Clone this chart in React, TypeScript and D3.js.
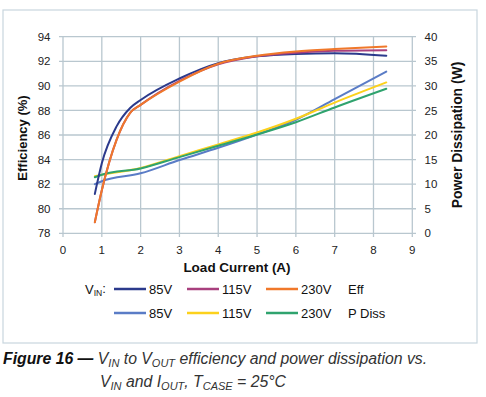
import React from "react";
import * as d3 from "d3";

const xTicks = [0, 1, 2, 3, 4, 5, 6, 7, 8, 9];
const effTicks = [78, 80, 82, 84, 86, 88, 90, 92, 94];
const pdTicks = [0, 5, 10, 15, 20, 25, 30, 35, 40];

const effX = [0.82, 1.0, 1.38, 1.73, 2.0, 3.0, 4.0, 5.0, 6.0, 7.0, 8.33];
const eff85 = [81.2, 83.7, 86.7, 88.2, 88.85, 90.6, 91.85, 92.4, 92.6, 92.65, 92.45];
const eff115 = [78.9, 81.5, 85.6, 87.8, 88.45, 90.4, 91.75, 92.4, 92.7, 92.85, 92.9];
const eff230 = [78.9, 81.5, 85.6, 87.8, 88.45, 90.35, 91.8, 92.45, 92.8, 93.0, 93.2];

const pdX = [0.82, 1.0, 2.0, 3.0, 4.0, 5.0, 6.0, 7.0, 8.33];
const pd85 = [10.0, 10.6, 12.2, 14.9, 17.4, 20.1, 23.1, 27.3, 32.9];
const pd115 = [11.6, 11.9, 13.3, 15.7, 18.1, 20.5, 23.3, 26.6, 30.7];
const pd230 = [11.4, 11.9, 13.2, 15.5, 17.8, 20.1, 22.6, 25.6, 29.4];

const C = {
  e85: "#2b3a8c",
  e115: "#a8407e",
  e230: "#f0782a",
  p85: "#5a7cc6",
  p115: "#fcd11c",
  p230: "#2fa36e",
  grid: "#b9c7cf",
  frame: "#c8d6de",
};

export default function App() {
  const x = d3.scaleLinear().domain([0, 9]).range([63, 412.3]);
  const yE = d3.scaleLinear().domain([78, 94]).range([233.3, 36.7]);
  const yP = d3.scaleLinear().domain([0, 40]).range([233.3, 36.7]);
  const lineE = (vals: number[]) =>
    d3
      .line<number>()
      .x((_, i) => x(effX[i]))
      .y((d) => yE(d))
      .curve(d3.curveMonotoneX)(vals) as string;
  const lineP = (vals: number[]) =>
    d3
      .line<number>()
      .x((_, i) => x(pdX[i]))
      .y((d) => yP(d))
      .curve(d3.curveMonotoneX)(vals) as string;
  const font = "'Liberation Sans', Arial, sans-serif";
  const legendRows = [
    { y: 289, items: [["85V", C.e85], ["115V", C.e115], ["230V", C.e230]], label: "Eff" },
    { y: 313, items: [["85V", C.p85], ["115V", C.p115], ["230V", C.p230]], label: "P Diss" },
  ];
  const legX = [114, 187, 266];
  return (
    <svg
      width={486}
      height={397}
      style={{ position: "absolute", left: 0, top: 0, background: "#fff" }}
      fontFamily={font}
    >
      <rect x={3} y={10} width={474} height={333} fill="#fff" stroke={C.frame} strokeWidth={1.2} />
      {/* grid */}
      {xTicks.map((t) => (
        <line key={"gx" + t} x1={x(t)} x2={x(t)} y1={36.7} y2={237} stroke={C.grid} strokeWidth={1.3} />
      ))}
      {effTicks.map((t) => (
        <line key={"gy" + t} x1={59} x2={416} y1={yE(t)} y2={yE(t)} stroke={C.grid} strokeWidth={1.3} />
      ))}
      {/* tick labels */}
      {effTicks.map((t) => (
        <text key={"le" + t} x={50.5} y={yE(t)} dy="0.36em" textAnchor="end" fontSize={11.5} fill="#222">
          {t}
        </text>
      ))}
      {pdTicks.map((t) => (
        <text key={"lp" + t} x={424.5} y={yP(t)} dy="0.36em" textAnchor="start" fontSize={11.5} fill="#222">
          {t}
        </text>
      ))}
      {xTicks.map((t) => (
        <text key={"lx" + t} x={x(t)} y={250} dy="0.36em" textAnchor="middle" fontSize={11.5} fill="#222">
          {t}
        </text>
      ))}
      <text x={237} y={267} dy="0.36em" textAnchor="middle" fontSize={13.5} fontWeight="bold" fill="#111">
        Load Current (A)
      </text>
      <text
        transform={`translate(22,138) rotate(-90)`}
        dy="0.36em"
        textAnchor="middle"
        fontSize={13}
        fontWeight="bold"
        fill="#111"
      >
        Efficiency (%)
      </text>
      <text
        transform={`translate(457,135) rotate(-90)`}
        dy="0.36em"
        textAnchor="middle"
        fontSize={13.9}
        fontWeight="bold"
        fill="#111"
      >
        Power Dissipation (W)
      </text>
      {/* series */}
      <g fill="none" strokeWidth={2} strokeLinecap="round">
        <path d={lineP(pd85)} stroke={C.p85} />
        <path d={lineP(pd115)} stroke={C.p115} />
        <path d={lineP(pd230)} stroke={C.p230} />
        <path d={lineE(eff85)} stroke={C.e85} />
        <path d={lineE(eff115)} stroke={C.e115} />
        <path d={lineE(eff230)} stroke={C.e230} />
      </g>
      {/* legend */}
      <text x={85} y={289} dy="0.36em" fontSize={13} fill="#111">
        V<tspan fontSize={8.5} dy="0.25em">IN</tspan>
        <tspan dy="-0.25em">:</tspan>
      </text>
      {legendRows.map((r) => (
        <g key={r.label}>
          {r.items.map(([lab, col], i) => (
            <g key={lab}>
              <line x1={legX[i]} x2={legX[i] + 32} y1={r.y} y2={r.y} stroke={col} strokeWidth={2.5} />
              <text x={legX[i] + 35} y={r.y} dy="0.36em" fontSize={13} fill="#111">
                {lab}
              </text>
            </g>
          ))}
          <text x={348} y={r.y} dy="0.36em" fontSize={13} fill="#111">
            {r.label}
          </text>
        </g>
      ))}
      {/* caption */}
      <text x={3} y={364} fontSize={15.8} fontStyle="italic" fill="#333">
        <tspan fontWeight="bold" fill="#111">Figure 16 —</tspan>
        <tspan> V</tspan>
        <tspan fontSize={11} dy="3">IN</tspan>
        <tspan dy="-3"> to V</tspan>
        <tspan fontSize={11} dy="3">OUT</tspan>
        <tspan dy="-3"> efficiency and power dissipation vs.</tspan>
      </text>
      <text x={100} y={387} fontSize={15.8} fontStyle="italic" fill="#333">
        <tspan>V</tspan>
        <tspan fontSize={11} dy="3">IN</tspan>
        <tspan dy="-3"> and I</tspan>
        <tspan fontSize={11} dy="3">OUT</tspan>
        <tspan dy="-3">, T</tspan>
        <tspan fontSize={11} dy="3">CASE</tspan>
        <tspan dy="-3"> = 25°C</tspan>
      </text>
    </svg>
  );
}
